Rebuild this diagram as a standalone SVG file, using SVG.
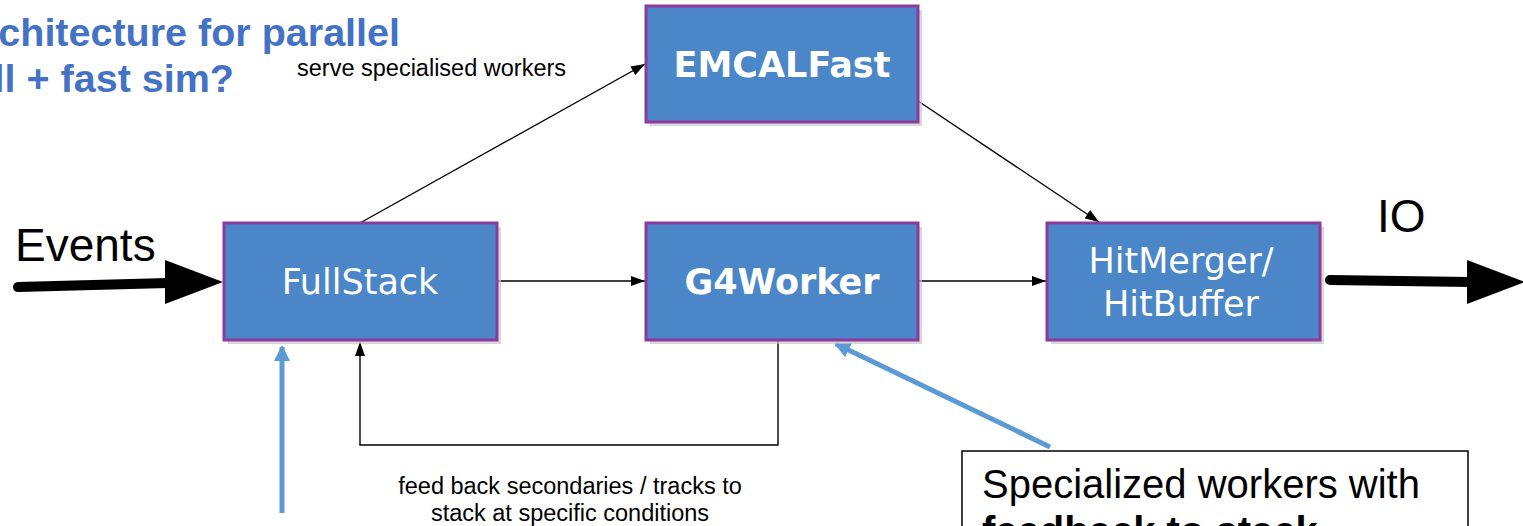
<svg xmlns="http://www.w3.org/2000/svg" width="1523" height="526" viewBox="0 0 1523 526">
  <defs>
    <style>
      .box { fill: #4a86c8; stroke: #8e3a9c; stroke-width: 3; }
      .shadow { fill: #c8c8c8; opacity: 0.7; }
      .lbl { font-family: "DejaVu Sans", Verdana, sans-serif; font-size: 35px; fill: #ffffff; text-anchor: middle; }
      .lbl-b { font-family: "DejaVu Sans", Verdana, sans-serif; font-size: 35px; font-weight: bold; fill: #ffffff; text-anchor: middle; }
      .title { font-family: "Liberation Sans", Arial, sans-serif; font-size: 39.5px; font-weight: bold; fill: #4472c4; text-anchor: end; }
      .note { font-family: "Liberation Sans", Arial, sans-serif; font-size: 23.5px; fill: #000000; }
      .big { font-family: "Liberation Sans", Arial, sans-serif; font-size: 46px; fill: #000000; }
      .call { font-family: "Liberation Sans", Arial, sans-serif; font-size: 40px; fill: #000000; }
      .thin { fill: none; stroke: #000000; stroke-width: 1.4; }
      .thick { fill: none; stroke: #000000; stroke-width: 10; stroke-linecap: round; }
      .blue { fill: none; stroke: #5b9bd5; stroke-width: 5; }
    </style>
    <marker id="arr" viewBox="0 0 14 10" refX="14" refY="5" markerWidth="14" markerHeight="10" markerUnits="userSpaceOnUse" orient="auto">
      <path d="M0,0 L14,5 L0,10 z" fill="#000000"/>
    </marker>
    <marker id="arr-blue" viewBox="0 0 16 16" refX="14" refY="8" markerWidth="16" markerHeight="16" markerUnits="userSpaceOnUse" orient="auto">
      <path d="M0,0 L16,8 L0,16 z" fill="#5b9bd5"/>
    </marker>
  </defs>

  <rect width="1523" height="526" fill="#ffffff"/>

  <!-- title (runs off the left edge) -->
  <g id="title">
    <text class="title" x="400" y="46">chitecture for parallel</text>
    <text class="title" x="234" y="92">ll + fast sim?</text>
  </g>

  <!-- free labels -->
  <text class="big" x="15" y="261">Events</text>
  <text class="big" x="1377" y="232">IO</text>
  <text class="note" x="297" y="76">serve specialised workers</text>
  <text class="note" text-anchor="middle" x="570" y="494">feed back secondaries / tracks to</text>
  <text class="note" text-anchor="middle" x="570" y="521">stack at specific conditions</text>

  <!-- connectors -->
  <g id="connectors">
    <line class="thin" x1="360" y1="223" x2="645" y2="64" marker-end="url(#arr)"/>
    <line class="thin" x1="497" y1="281" x2="645" y2="281" marker-end="url(#arr)"/>
    <line class="thin" x1="918" y1="281" x2="1046" y2="281" marker-end="url(#arr)"/>
    <line class="thin" x1="918" y1="101" x2="1099" y2="222" marker-end="url(#arr)"/>
    <path class="thin" d="M778,340 V445 H360 V342" marker-end="url(#arr)"/>
    <!-- input / output streams -->
    <line class="thick" x1="18" y1="287" x2="168" y2="283"/>
    <path d="M165,260 L223,282 L165,304 z" fill="#000000"/>
    <line class="thick" x1="1330" y1="280" x2="1470" y2="282"/>
    <path d="M1467,260 L1525,282 L1467,304 z" fill="#000000"/>
    <!-- callout pointers -->
    <line class="blue" x1="282" y1="513" x2="282" y2="347" marker-end="url(#arr-blue)"/>
    <line class="blue" x1="1050" y1="447" x2="836" y2="344" marker-end="url(#arr-blue)"/>
  </g>

  <!-- nodes -->
  <g id="fullstack">
    <rect class="shadow" x="228" y="227" width="273" height="117"/>
    <rect class="box" x="224" y="223" width="273" height="117"/>
    <text class="lbl" x="360" y="294">FullStack</text>
  </g>
  <g id="emcalfast">
    <rect class="shadow" x="650" y="10" width="272" height="116"/>
    <rect class="box" x="646" y="6" width="272" height="116"/>
    <text class="lbl-b" x="782" y="77">EMCALFast</text>
  </g>
  <g id="g4worker">
    <rect class="shadow" x="650" y="227" width="272" height="117"/>
    <rect class="box" x="646" y="223" width="272" height="117"/>
    <text class="lbl-b" x="782" y="294">G4Worker</text>
  </g>
  <g id="hitmerger">
    <rect class="shadow" x="1051" y="227" width="273" height="117"/>
    <rect class="box" x="1047" y="223" width="273" height="117"/>
    <text class="lbl" x="1181" y="273">HitMerger/</text>
    <text class="lbl" x="1181" y="316">HitBuffer</text>
  </g>
  <g id="callout">
    <rect x="962" y="451" width="506" height="100" fill="#ffffff" stroke="#000000" stroke-width="1.5"/>
    <text class="call" x="982" y="498">Specialized workers with</text>
    <text class="call" x="982" y="545" font-weight="bold">feedback to stack</text>
  </g>
</svg>
